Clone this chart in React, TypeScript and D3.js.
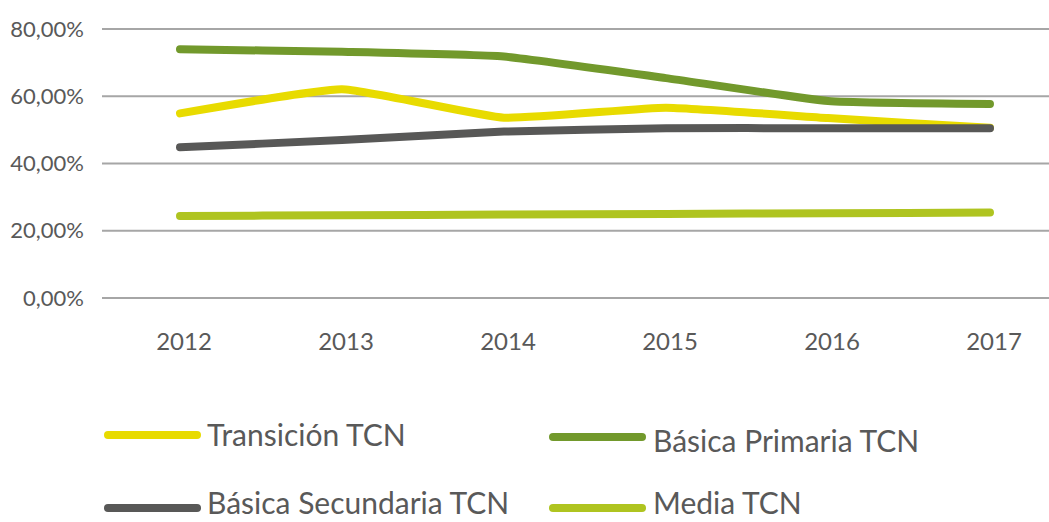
import React from "react";
import * as d3 from "d3";

const years = ["2012", "2013", "2014", "2015", "2016", "2017"];
const transicion = [0.549, 0.621, 0.536, 0.566, 0.535, 0.506];
const primaria = [0.74, 0.732, 0.718, 0.654, 0.586, 0.577];
const secundaria = [0.448, 0.47, 0.495, 0.505, 0.505, 0.505];
const media = [0.244, 0.246, 0.248, 0.25, 0.252, 0.254];
const yTicks = [0, 0.2, 0.4, 0.6, 0.8];

const seriesNames = ["Transición TCN", "Básica Primaria TCN", "Básica Secundaria TCN", "Media TCN"];
const seriesColors = ["#E8DB00", "#72992C", "#585857", "#AFC420"];
const seriesValues = [transicion, primaria, secundaria, media];

const W = 1049;
const H = 522;
const FONT = "Lato, 'Open Sans', sans-serif";
const TEXT = "#595959";

export default function App() {
  const x = d3.scalePoint<string>().domain(years).range([180, 990]);
  const y = d3.scaleLinear().domain([0, 0.8]).range([298, 29]);
  const line = d3
    .line<number>()
    .x((_, i) => x(years[i]) as number)
    .y((d) => y(d))
    .curve(d3.curveCardinal.tension(0.6));
  const fmt = (v: number) => (v * 100).toFixed(2).replace(".", ",") + "%";

  const legendPos = [
    { lx: 108, ly: 435, tx: 207, ty: 446 },
    { lx: 553, ly: 437, tx: 653, ty: 452 },
    { lx: 108, ly: 508, tx: 207, ty: 514 },
    { lx: 553, ly: 508, tx: 653, ty: 514 },
  ];

  return (
    <svg
      width={W}
      height={H}
      style={{ position: "absolute", left: 0, top: 0, background: "#fff" }}
    >
      {yTicks.map((t) => (
        <g key={t}>
          <line x1={102} x2={W} y1={y(t)} y2={y(t)} stroke="#A6A6A6" strokeWidth={2} />
          <text
            x={84}
            y={y(t)}
            dy="0.35em"
            textAnchor="end"
            fontFamily={FONT}
            fontSize={22}
            fill={TEXT}
          >
            {fmt(t)}
          </text>
        </g>
      ))}
      {years.map((yr) => (
        <text
          key={yr}
          x={(x(yr) as number) + 4}
          y={350}
          textAnchor="middle"
          fontFamily={FONT}
          fontSize={24}
          fill={TEXT}
        >
          {yr}
        </text>
      ))}
      {seriesValues.map((vals, i) => (
        <path
          key={i}
          d={line(vals) || ""}
          fill="none"
          stroke={seriesColors[i]}
          strokeWidth={8}
          strokeLinecap="round"
          strokeLinejoin="round"
        />
      ))}
      {seriesNames.map((name, i) => {
        const p = legendPos[i];
        return (
          <g key={name}>
            <line
              x1={p.lx}
              x2={p.lx + 89}
              y1={p.ly}
              y2={p.ly}
              stroke={seriesColors[i]}
              strokeWidth={8}
              strokeLinecap="round"
            />
            <text x={p.tx} y={p.ty} fontFamily={FONT} fontSize={30} fill={TEXT}>
              {name}
            </text>
          </g>
        );
      })}
    </svg>
  );
}
